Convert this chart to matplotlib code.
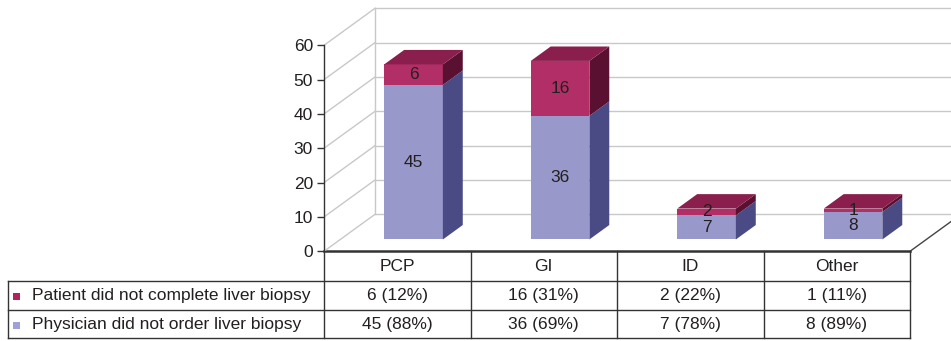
import matplotlib
matplotlib.use('Agg')
import matplotlib.pyplot as plt
from matplotlib.patches import Polygon, Rectangle

# ---------------- data ----------------
categories = ['PCP', 'GI', 'ID', 'Other']
not_completed = [6, 16, 2, 1]    # Patient did not complete liver biopsy
not_ordered = [45, 36, 7, 8]     # Physician did not order liver biopsy
series_names = ['Patient did not complete liver biopsy',
                'Physician did not order liver biopsy']
yticks = [0, 10, 20, 30, 40, 50, 60]

plt.rcParams['font.family'] = ['Liberation Sans', 'DejaVu Sans']
FS = 12.5
TXT = '#231F20'

W, H = 951, 341
fig = plt.figure(figsize=(W / 100, H / 100), dpi=100)

# ---------------- geometry (pixels) ----------------
x_left_px, x_floor_right_px = 324, 910
y0_px, y60_px = 251.3, 45.3
ncat = len(categories)
px_per_cat = (x_floor_right_px - x_left_px) / ncat
px_per_val = (y0_px - y60_px) / 60.0

ax = fig.add_axes([x_left_px / W, 1 - y0_px / H, (W - x_left_px) / W, y0_px / H])
ax.set_facecolor('none')
xmax = -0.5 + (W - x_left_px) / px_per_cat
ax.set_xlim(-0.5, xmax)
ax.set_ylim(0, y0_px / px_per_val)

# depth of the 3D box (data units)
Dx = 51 / px_per_cat
Dv = 37 / px_per_val

grid_c = '#C8C8C8'
for v in yticks:
    ax.plot([-0.5 + Dx, xmax + 1], [v + Dv, v + Dv], color=grid_c, lw=1.0, zorder=1)
    ax.plot([-0.5, -0.5 + Dx], [v, v + Dv], color=grid_c, lw=1.0, zorder=1)
ax.plot([-0.5 + Dx, -0.5 + Dx], [Dv, yticks[-1] + Dv], color=grid_c, lw=1.0, zorder=1)
# right floor edge
ax.plot([ncat - 0.5, ncat - 0.5 + Dx], [0, Dv], color='#444444', lw=1.0, zorder=2)

# spines / ticks
for s in ['top', 'right', 'bottom']:
    ax.spines[s].set_visible(False)
ax.spines['left'].set_bounds(0, yticks[-1])
ax.spines['left'].set_color('#333333')
ax.spines['left'].set_linewidth(1.0)
ax.set_yticks(yticks)
ax.set_yticklabels([str(t) for t in yticks], fontsize=FS, color=TXT)
ax.tick_params(axis='y', direction='out', length=5, width=1.0, color='#333333', pad=3)
ax.set_xticks([])

# ---------------- bars ----------------
lav_front, lav_side = '#9898CB', '#4A4A85'
cr_front, cr_side, cr_top = '#B12F66', '#5A1030', '#8A1E4C'

w = 0.40
d0 = 0.32   # depth position of bar front face
dd = 0.39   # bar depth
xs = [i + d0 * Dx for i in range(ncat)]
b0 = d0 * Dv

ax.bar(xs, not_ordered, width=w, bottom=b0, color=lav_front, zorder=3, linewidth=0)
bot2 = [b0 + v for v in not_ordered]
ax.bar(xs, not_completed, width=w, bottom=bot2, color=cr_front, zorder=3, linewidth=0)

ox, oy = dd * Dx, dd * Dv
for i in range(ncat):
    xl, xr = xs[i] - w / 2, xs[i] + w / 2
    segs = [(b0, b0 + not_ordered[i], lav_side),
            (b0 + not_ordered[i], b0 + not_ordered[i] + not_completed[i], cr_side)]
    for lo, hi, c in segs:
        ax.add_patch(Polygon([(xr, lo), (xr + ox, lo + oy), (xr + ox, hi + oy), (xr, hi)],
                             closed=True, facecolor=c, edgecolor='none', zorder=3))
    top = b0 + not_ordered[i] + not_completed[i]
    ax.add_patch(Polygon([(xl, top), (xr, top), (xr + ox, top + oy), (xl + ox, top + oy)],
                         closed=True, facecolor=cr_top, edgecolor='none', zorder=3))
    # labels
    ax.text(xs[i], b0 + not_ordered[i] / 2, str(not_ordered[i]), ha='center', va='center',
            fontsize=FS, color=TXT, zorder=4)
    ax.text(xs[i], b0 + not_ordered[i] + not_completed[i] / 2, str(not_completed[i]),
            ha='center', va='center', fontsize=FS, color=TXT, zorder=4)

# ---------------- data table ----------------
tax = fig.add_axes([0, 0, 1, 1], zorder=-1)
tax.set_xlim(0, W)
tax.set_ylim(H, 0)
tax.axis('off')

line_c = '#333333'
col_edges = [x_left_px + k * px_per_cat for k in range(ncat + 1)]
row_y = [y0_px, 280.7, 310.0, 338.3]
tbl_left = 7.8

tax.plot([col_edges[0], col_edges[-1]], [row_y[0], row_y[0]], color=line_c, lw=1.8)
for x in col_edges:
    tax.plot([x, x], [row_y[0], row_y[-1]], color=line_c, lw=1.0)
tax.plot([tbl_left, tbl_left], [row_y[1], row_y[-1]], color=line_c, lw=1.0)
for y in row_y[1:]:
    tax.plot([tbl_left, col_edges[-1]], [y, y], color=line_c, lw=1.0)

for k, cat in enumerate(categories):
    cx = (col_edges[k] + col_edges[k + 1]) / 2
    tax.text(cx, (row_y[0] + row_y[1]) / 2 + 0.5, cat, ha='center', va='center',
             fontsize=FS, color=TXT)
    tot = not_completed[k] + not_ordered[k]
    for r, vals in enumerate([not_completed, not_ordered]):
        cy = (row_y[r + 1] + row_y[r + 2]) / 2 + 0.5
        tax.text(cx, cy, f'{vals[k]} ({round(100 * vals[k] / tot)}%)', ha='center',
                 va='center', fontsize=FS, color=TXT)

leg_colors = ['#B0245E', '#A0A0D8']
for r, (name, c) in enumerate(zip(series_names, leg_colors)):
    cy = (row_y[r + 1] + row_y[r + 2]) / 2
    tax.add_patch(Rectangle((13.3, cy - 2.0), 7, 7, facecolor=c, edgecolor='none'))
    tax.text(31.7, cy + 0.5, name, ha='left', va='center', fontsize=FS, color=TXT)

fig.savefig('out.png', dpi=100)
